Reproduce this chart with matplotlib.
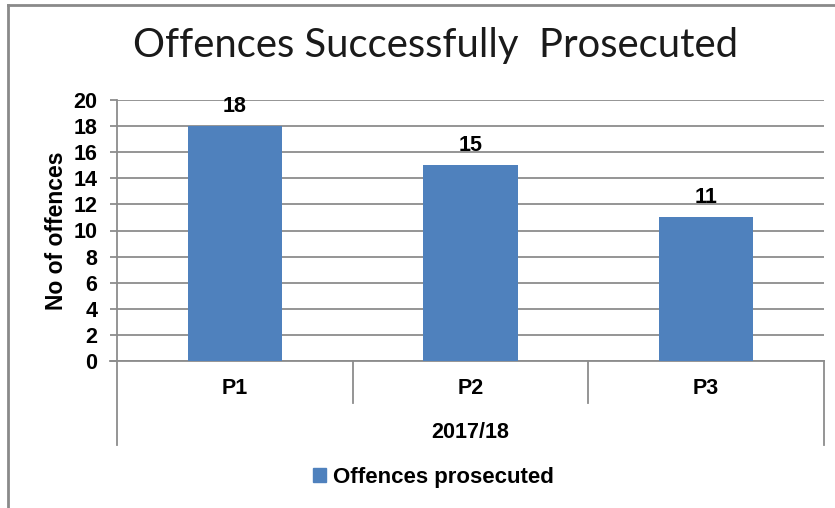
import matplotlib.pyplot as plt
from matplotlib.lines import Line2D
from matplotlib.patches import Patch

periods = ['P1', 'P2', 'P3']
year_label = '2017/18'
prosecuted = [18, 15, 11]
series_name = 'Offences prosecuted'
bar_color = '#4F81BD'
grid_color = '#8C8C8C'

W, H = 835, 508
fig = plt.figure(figsize=(W / 100, H / 100), dpi=100)
ax = fig.add_axes([117 / W, 1 - 361 / H, (824 - 117) / W, (361 - 100) / H])

fs = 15.5
font = dict(fontsize=fs, fontweight='bold', family='Liberation Sans')

x = range(len(periods))
bars = ax.bar(x, prosecuted, width=0.4, color=bar_color, zorder=3)
ax.set_xlim(-0.5, len(periods) - 0.5)
ax.set_ylim(0, 20)
ax.set_yticks(range(0, 21, 2))

for b, v in zip(bars, prosecuted):
    ax.text(b.get_x() + b.get_width() / 2, v + 0.7, str(v), ha='center', va='bottom', **font)

ax.yaxis.grid(True, color=grid_color, linewidth=1.3, zorder=0)
for s in ['top', 'right', 'bottom']:
    ax.spines[s].set_visible(False)
ax.spines['left'].set_color(grid_color)
ax.spines['left'].set_linewidth(1.3)
ax.tick_params(axis='y', length=5, width=1.3, color=grid_color, pad=9)
ax.tick_params(axis='x', length=0, labelbottom=False)
for lab in ax.get_yticklabels():
    lab.set_fontsize(fs)
    lab.set_fontweight('bold')
    lab.set_family('Liberation Sans')

ax.set_ylabel('No of offences', fontsize=16.5, fontweight='bold', family='Liberation Sans', labelpad=4)

# category box below the plot
ph = 361 - 100
kw = dict(transform=ax.transAxes, color=grid_color, linewidth=1.3, clip_on=False)
ax.add_line(Line2D([-7 / 707, 1], [0, 0], **kw))
ax.add_line(Line2D([0, 0], [0, -(445 - 361) / ph], **kw))
ax.add_line(Line2D([1, 1], [0, -(445 - 361) / ph], **kw))
for k in range(1, len(periods)):
    ax.add_line(Line2D([k / len(periods)] * 2, [0, -(403 - 361) / ph], **kw))
for i, p in enumerate(periods):
    ax.text((i + 0.5) / len(periods), -(389 - 361) / ph, p, transform=ax.transAxes,
            ha='center', va='center', **font)
ax.text(0.5, -(432 - 361) / ph, year_label, transform=ax.transAxes,
        ha='center', va='center', **font)

fig.text(436 / W, 1 - 45 / H, 'Offences Successfully  Prosecuted', ha='center', va='center',
         fontsize=28.8, family='Lato', color='#1a1a1a')

fig.legend(handles=[Patch(color=bar_color, label=series_name)], loc='center',
           bbox_to_anchor=(433 / W, 1 - 477 / H), frameon=False, handlelength=0.6,
           handleheight=0.6, handletextpad=0.3,
           prop={'size': 16, 'weight': 'bold', 'family': 'Liberation Sans'})

# outer chart border
fig.add_artist(Line2D([8 / W, 8 / W], [0, 1 - 5 / H], color='#8a8a8a', linewidth=2))
fig.add_artist(Line2D([8 / W, 1], [1 - 5 / H, 1 - 5 / H], color='#8a8a8a', linewidth=2))

fig.savefig('out.png', dpi=100)
